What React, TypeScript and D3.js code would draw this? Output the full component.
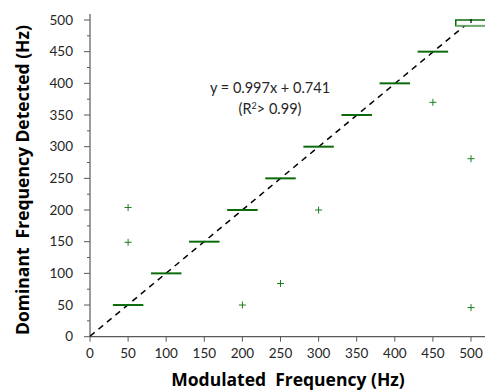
import React from "react";
import * as d3 from "d3";

const categories = [50, 100, 150, 200, 250, 300, 350, 400, 450];
const medians = [50, 100, 150, 200, 250, 300, 350, 400, 450];
const boxCategory = 500;
const boxLow = 491;
const boxHigh = 500;
const outlierX = [50, 50, 200, 250, 300, 450, 500, 500];
const outlierY = [204, 149, 50, 84, 200, 370, 281, 46];
const xTicks = [0, 50, 100, 150, 200, 250, 300, 350, 400, 450, 500];
const yTicks = [0, 50, 100, 150, 200, 250, 300, 350, 400, 450, 500];
const yMinorTicks = [25, 75, 125, 175, 225, 275, 325, 375, 425, 475];
const slope = 0.997;
const intercept = 0.741;

const W = 485;
const H = 390;

export default function App() {
  const x = d3.scaleLinear().domain([0, 500]).range([90, 471]);
  const y = d3.scaleLinear().domain([0, 500]).range([336.7, 20]);
  const halfW = 20;
  const green = "#0b6b0b";
  const axisCol = "#595959";
  const font = "Lato, 'Open Sans', sans-serif";
  const fitLine = d3.line<number>().x((d) => x(d)).y((d) => y(slope * d + intercept));

  return (
    <svg width={W} height={H} style={{ position: "fixed", left: 0, top: 0, background: "#fff" }} fontFamily={font}>
      {/* axes */}
      <line x1={x(0)} x2={x(0)} y1={y(0)} y2={14} stroke={axisCol} strokeWidth={1.2} />
      <line x1={x(0)} x2={485} y1={y(0)} y2={y(0)} stroke={axisCol} strokeWidth={1.2} />
      {yTicks.map((t) => (
        <g key={"y" + t}>
          <line x1={x(0) - 6} x2={x(0)} y1={y(t)} y2={y(t)} stroke={axisCol} strokeWidth={1} />
          <text x={73} y={y(t)} dy="0.35em" textAnchor="end" fontSize={13.5} fill="#262626">{t}</text>
        </g>
      ))}
      {yMinorTicks.map((t) => (
        <line key={"ym" + t} x1={x(0) - 3} x2={x(0)} y1={y(t)} y2={y(t)} stroke={axisCol} strokeWidth={1} />
      ))}
      {xTicks.map((t) => (
        <g key={"x" + t}>
          <line x1={x(t)} x2={x(t)} y1={y(0)} y2={y(0) + 5} stroke={axisCol} strokeWidth={1} />
          <text x={x(t)} y={358} textAnchor="middle" fontSize={13.5} fill="#262626">{t}</text>
        </g>
      ))}
      {/* fit line */}
      <path d={fitLine([0, 500]) || ""} fill="none" stroke="#000" strokeWidth={1.5} strokeDasharray="6,5" />
      {/* medians */}
      {categories.map((c, i) => (
        <line key={"m" + c} x1={x(c - halfW)} x2={x(c + halfW)} y1={y(medians[i])} y2={y(medians[i])} stroke={green} strokeWidth={2} />
      ))}
      {/* box at 500 */}
      <rect x={x(boxCategory - halfW)} y={y(boxHigh)} width={x(boxCategory + halfW) - x(boxCategory - halfW)} height={y(boxLow) - y(boxHigh)} fill="#fff" stroke={green} strokeWidth={1.5} />
      <line x1={x(boxCategory - halfW)} x2={x(boxCategory + halfW)} y1={y(boxLow)} y2={y(boxLow)} stroke="#6aa86a" strokeWidth={1.5} />
      <line x1={x(boxCategory)} x2={x(boxCategory)} y1={y(boxHigh) - 1} y2={y(boxHigh) + 3} stroke="#000" strokeWidth={1.2} />
      {/* outliers */}
      {outlierX.map((ox, i) => (
        <g key={"o" + i} stroke="#1f7d1f" strokeWidth={1}>
          <line x1={x(ox) - 3.5} x2={x(ox) + 3.5} y1={y(outlierY[i])} y2={y(outlierY[i])} />
          <line x1={x(ox)} x2={x(ox)} y1={y(outlierY[i]) - 3.5} y2={y(outlierY[i]) + 3.5} />
        </g>
      ))}
      {/* annotation */}
      <text x={270} y={93} textAnchor="middle" fontSize={14.5} fill="#262626">y = 0.997x + 0.741</text>
      <text x={270} y={114} textAnchor="middle" fontSize={14.5} fill="#262626">
        (R<tspan dy={-5} fontSize={9}>2</tspan><tspan dy={5}>&gt; 0.99)</tspan>
      </text>
      {/* titles */}
      <text x={288} y={386} textAnchor="middle" fontSize={17.5} fontWeight="bold" fill="#000" fontFamily="'Open Sans', sans-serif" style={{ whiteSpace: "pre" }}>Modulated  Frequency (Hz)</text>
      <text transform={`translate(29,180) rotate(-90)`} textAnchor="middle" fontSize={17.5} fontWeight="bold" fill="#000" fontFamily="'Open Sans', sans-serif" style={{ whiteSpace: "pre" }}>Dominant  Frequency Detected (Hz)</text>
    </svg>
  );
}
